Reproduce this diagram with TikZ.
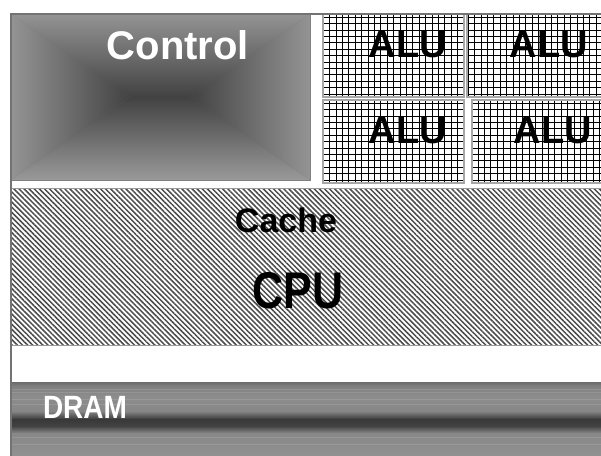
\documentclass[tikz,border=0pt]{standalone}
\usepackage{fontspec}
\setmainfont{Liberation Sans}
\usepackage{xcolor}
\usetikzlibrary{patterns.meta}

\definecolor{ctledge}{gray}{0.58}
\definecolor{ctlmid}{gray}{0.26}
\definecolor{framegray}{gray}{0.45}

\begin{document}
\begin{tikzpicture}[x=1pt, y=-1pt,
    alubox/.style={draw=black!35, line width=1.6pt, inner sep=0pt, fill=white,
        minimum height=83pt,
        path picture={\draw[black, line width=0.8pt, step=6.4pt]
            (path picture bounding box.south west) grid (path picture bounding box.north east);}},
    alutext/.style={anchor=base, inner sep=0pt, font=\fontsize{38}{38}\selectfont\bfseries},
    whitetext/.style={anchor=base, inner sep=0pt, text=white}]

    % =================================================================
    % 1. KHUNG VA NEN
    % =================================================================
    \useasboundingbox (0,0) rectangle (601,455);
    \clip (0,0) rectangle (601,455);
    \fill[white] (0,0) rectangle (601,455);

    % =================================================================
    % 2. KHOI CONTROL (to bong hinh hop)
    % =================================================================
    \coordinate (ctlNW) at (11,14);
    \coordinate (ctlNE) at (310,14);
    \coordinate (ctlSW) at (11,180);
    \coordinate (ctlSE) at (310,180);
    \coordinate (ctlL) at (130,97);
    \coordinate (ctlR) at (190,97);

    \fill[black!55] (ctlNW) rectangle (ctlSE);
    \shade[top color=ctledge, bottom color=ctlmid] (ctlNW) -- (ctlNE) -- (ctlR) -- (ctlL) -- cycle;
    \shade[top color=ctlmid, bottom color=ctledge!95!white] (ctlSW) -- (ctlSE) -- (ctlR) -- (ctlL) -- cycle;
    \shade[left color=ctledge, right color=ctlmid] (ctlNW) -- (ctlL) -- (ctlSW) -- cycle;
    \shade[left color=ctlmid, right color=ctledge] (ctlNE) -- (ctlR) -- (ctlSE) -- cycle;
    \draw[black!50, line width=1pt] (ctlNW) rectangle (ctlSE);

    \node[whitetext, font=\fontsize{40}{40}\selectfont\bfseries] (ctltxt) at (178,59) {Control};

    % =================================================================
    % 3. BON KHOI ALU (luoi o vuong)
    % =================================================================
    \node[alubox, minimum width=141pt] (alu1) at (393.5,55.5) {};
    \node[alubox, minimum width=143pt] (alu2) at (538.5,55.5) {};
    \node[alubox, minimum width=141pt] (alu3) at (393.5,141.5) {};
    \node[alubox, minimum width=140pt] (alu4) at (542,141.5) {};

    \node[alutext] (alu1txt) at (408,57) {ALU};
    \node[alutext] (alu2txt) at (549,57) {ALU};
    \node[alutext] (alu3txt) at (408,143) {ALU};
    \node[alutext] (alu4txt) at (553,143) {ALU};

    % =================================================================
    % 4. CACHE / CPU (gach cheo)
    % =================================================================
    \draw[black!40, line width=1pt,
        pattern={Lines[angle=-45, distance=3.6pt, line width=1.5pt]}, pattern color=black!70]
        (11,188) rectangle (610,345);

    \node[anchor=base, inner sep=0pt, font=\fontsize{34}{34}\selectfont\bfseries] (cachetxt) at (286,232) {Cache};
    \node[anchor=base, inner sep=0pt, font=\fontsize{43}{43}\selectfont\bfseries] (cputxt) at (298,308)
        {\scalebox{1}[1.2]{\bfseries CPU}};

    % =================================================================
    % 5. DAI DRAM (soc ngang)
    % =================================================================
    \foreach \ya/\yb/\ca/\cb in {382/386/58/50, 386/396/50/45, 396/411/45/47,
                                  411/419/47/76, 419/426/78/74, 426/433/74/48, 433/456/47/43}
        \shade[top color=black!\ca, bottom color=black!\cb] (11,\ya) rectangle (610,\yb);
    \foreach \y in {389,392,399,404,437,444}
        \draw[white, opacity=0.12, line width=0.8pt] (11,\y) -- (610,\y);

    \node[whitetext, font=\fontsize{28}{28}\selectfont\bfseries] (dramtxt) at (85,418)
        {\scalebox{1}[1.15]{\bfseries DRAM}};

    % =================================================================
    % 6. VIEN NGOAI
    % =================================================================
    \draw[framegray, line width=2pt] (11,456) -- (11,14) -- (610,14);

\end{tikzpicture}
\end{document}
